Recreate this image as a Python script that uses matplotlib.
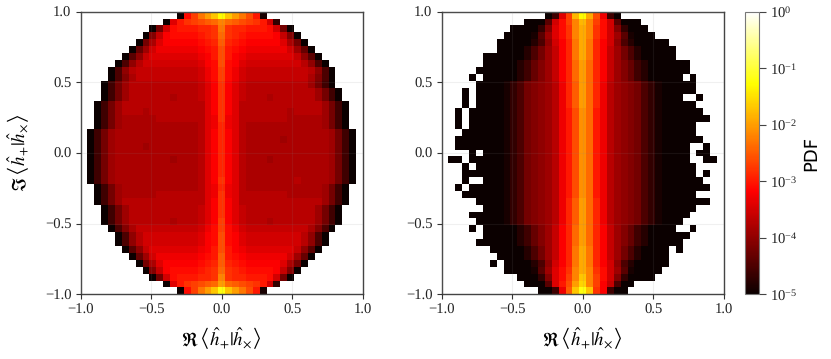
import numpy as np
import matplotlib
matplotlib.use('Agg')
import matplotlib.pyplot as plt
from matplotlib.colors import LogNorm

plt.rcParams['font.family'] = ['Liberation Serif', 'DejaVu Serif']
plt.rcParams['mathtext.fontset'] = 'stix'
plt.rcParams['text.hinting'] = 'no_hinting'

# each char is one histogram cell, top row first: log10(pdf) = -5 + 0.1 * index in LEVELS
LEVELS = '0123456789ABCDEFGHIJKLMNOPQRSTUVWXYZabcdefgh'

rows_left = [
    '..............0JNRUXbXUROK1..............',
    '............0GKMNOPQSQPONMKF3............',
    '..........08FJKKKLLMRMLLKKKJF80..........',
    '.........09EIJJJJKLMQMLKJJJJIE90.........',
    '........08CGIIIIIJKLPLKJIIIIIGC80........',
    '.......07BFHHHHHHIJKOKJIHHHHHHFB70.......',
    '......06AEGGGGGGGHIKOKIHGGGGGGGEA60......',
    '.....05ADFFFFFFFFGIJOJIGFFFFFFFFDA50.....',
    '....05ADEEEEEEEEEFHJNJHFEEEEEEEEEDA50....',
    '....059CEEEEEEEEEFHJNJHFEEEEEEEEEC950....',
    '...048BDDDDDDDDDDEGIMIGEDDDDDDDDDB840....',
    '...048BDDDDDDDDDDEGIMIGEDDDDDDDDDDB840...',
    '...048BDDDDDDCDDDEGIMIGEDDDCDDDDDDB840...',
    '..048BDDDDDDDDDDDDGIMIGDDDDDDDDDDDDB840..',
    '..048BDDDCDDDDDDDDGIMIGDDDDDDDCDDDDB840..',
    '..048BCCCCCDDDDDDDGHMHGDDDDDDDCCCCCB840..',
    '..048BCCCCCCCCCCCDGHLHGDCCCCCCCCCCCB840..',
    '.048BCCCCCCCCCCCCDGILIGDCCCCCCCCCCCCB840.',
    '.048BCCCCCCCCCCCCDGILIGDCCCCCBCCCCCCB840.',
    '.048BCCCCBCCCCCCCDGILIGDCCCCCCCCCCCCB840.',
    '.048BCCCCCCCCCCCCDGILIGDCCCCCCCCCCCCB840.',
    '.048BCCCCCCCCBCCCDGILIGDCCCBCCCCCCCCB840.',
    '.048BCCCCCCCCCCCCDGILIGDCCCCCCCCCCCCB840.',
    '.048BCCCCCCCCCCCCDGILIGDCCCCCCCCCCCCB840.',
    '.048BCCCCCCCCCCCCDGIMIGDCCCCCCCDCCCCB840.',
    '..048BCCCCCCCCCCCDGHLHGDCCCCCCCCCCCB840..',
    '..048BCCCCCDDDDDDDGHMHGDDDDDDDCCCCCB840..',
    '..048BDDDDDDDDDDDDGIMIGDDDDDDDDDDDDB840..',
    '...048BDDDDDDDDDDEGIMIGEDDDDDDDDDDB840...',
    '...048BDDDDDDDDDDEGIMIGEDDDDDDDDDDB840...',
    '...048BDDDDDDCDDDEGINIGEDDDCDDDDDDB840...',
    '....059CEEEEEEEEEFHJNJHFEEEEEEEEEC950....',
    '.....05ADFFFFFFFFGIJOJIGFFFFFFFFDA50.....',
    '.....05ADFFFFFFFFGIJOJIGFFFFFFFFDA50.....',
    '......06AEGGGGGGGHIKOKIHGGGGGGGEA60......',
    '.......07BFHHHHHHIJKPKJIHHHHHHFB70.......',
    '........08CGIIIIIJKLPLKJIIIIIGC80........',
    '.........09EIJJJJKLMQMLKJJJJIE90.........',
    '..........08FJKKKLLMSMLLKKKJF80..........',
    '............0GKMNOPQUQPONMKF3............',
    '..............0JNRUXcXUROK1..............',
]

rows_right = [
    '...............04GNWbVOH40...............',
    '............0006FJNSWSNJF6000............',
    '..........000039GJMSVSMJF93000...........',
    '.........000016BGJMSVSMJFB61000..........',
    '........0000025AFILRVRLIFA5200000........',
    '........0000258BEILRVRLIEB85200000.......',
    '......000000258BEILRVRLIEB85200000.......',
    '......000002479BEILQUQLIEB9742000000.....',
    '.....0000002479BEILQUQLIEB9742000000.....',
    '....0.000002479BEILQUQLIEB974200000.0....',
    '.....000013589ABDHLPUQLHDBA9853100000....',
    '...0.000013589ABDHLPUQLHDBA9853100000....',
    '...0.000013589ABDHLPUQLHDBA98531000..0...',
    '...0.000013589ABDHLPUQLHDBA9853100000....',
    '..0.0000013589ABDHKOTQKHDBA98531000000...',
    '..0.0000013589ABDHKOTQKHDBA985310000000..',
    '..0.0000013589ABDHKOTQKHDBA9853100000....',
    '...00000013589ABDHKOTQKHDBA9853100000....',
    '..000000013589ABDHKOTQKHDBA98531000000...',
    '..000000013589ABDHKOTQKHDBA985310000..0..',
    '....0.00013589ABDHKOTQKHDBA985310000.00..',
    '.00.0000013589ABDHKOTQKHDBA985310000..00.',
    '...0.000013589ABDHKOTQKHDBA9853100000....',
    '...00000013589ABDHKOTQKHDBA9853100000.0..',
    '...0..00013589ABDHKOTQKHDBA98531000000...',
    '..0.0000013589ABDHKOTQKHDBA985310000000..',
    '...00000013589ABDHKOTQKHDBA9853100000....',
    '.....000013589ABDHLPUQLHDBA985310000000..',
    '......00013589ABDHLPUQLHDBA9853100000....',
    '....0000013589ABDHLPUQLHDBA985310000.....',
    '.....000013589ABDHLPUQLHDBA98531000......',
    '....0.000002479BEILQUQLIEB97420000..0....',
    '......000002479BEILQUQLIEB9742000000.....',
    '.....0000002479BEILQUQLIEB974200000......',
    '.......00000258BEILRVRLIEB8520000.0......',
    '........0000258BEILRVRLIEB8520000........',
    '.......0.000025AFILRVRLIFA5200000........',
    '.........000016BGJMSVSMJFB610000.........',
    '...........00039GJNSXSNJF930000..........',
    '............0006GKOUYSNIE500.............',
    '..............004HPXcXMI400..............',
]

tick_vals = [-1.0, -0.5, 0.0, 0.5, 1.0]
cbar_ticks = [1e-5, 1e-4, 1e-3, 1e-2, 1e-1, 1e0]
xlabel = r'$\Re\,\left\langle\hat{h}_{+}|\hat{h}_{\times}\right\rangle$'
ylabel = r'$\Im\,\left\langle\hat{h}_{+}|\hat{h}_{\times}\right\rangle$'


def decode(rows):
    out = []
    for r in rows:
        out.append([np.nan if c == '.' else 10 ** (-5 + 0.1 * LEVELS.index(c)) for c in r])
    return np.array(out)


W, H = 831, 359
fig = plt.figure(figsize=(W / 100, H / 100), dpi=100)


def px_axes(x0, x1, y0, y1):
    return fig.add_axes([x0 / W, 1 - y1 / H, (x1 - x0) / W, (y1 - y0) / H])


ax1 = px_axes(80.5, 363, 11.7, 294.3)
ax2 = px_axes(441.5, 724, 11.7, 294.3)
cax = px_axes(744.7, 759.3, 11.7, 294.3)

cmap = plt.get_cmap('hot').copy()
cmap.set_bad('white')
norm = LogNorm(vmin=1e-5, vmax=1)
edges = np.linspace(-1, 1, 42)

for ax, rows in [(ax1, rows_left), (ax2, rows_right)]:
    Z = decode(rows)[::-1]
    mesh = ax.pcolormesh(edges, edges, Z, cmap=cmap, norm=norm, rasterized=True)
    ax.set_xlim(-1, 1)
    ax.set_ylim(-1, 1)
    ax.set_xticks(tick_vals)
    ax.set_yticks(tick_vals)
    ax.tick_params(labelsize=10.5, length=3.5, width=0.8, color='#333333', labelcolor='#222222', pad=3)
    ax.grid(True, color='#888888', alpha=0.12, lw=0.8)
    ax.set_axisbelow(False)
    for s in ax.spines.values():
        s.set_color('#444444')
        s.set_linewidth(1.0)
    ax.set_xlabel(xlabel, fontsize=13.5, labelpad=6)

ax1.set_ylabel(ylabel, fontsize=13.5, labelpad=10)

cb = fig.colorbar(mesh, cax=cax, ticks=cbar_ticks)
cb.ax.minorticks_off()
cb.ax.tick_params(labelsize=10.5, length=5, width=0.8, color='#444444', labelcolor='#222222', pad=3)
cb.outline.set_edgecolor('#777777')
cb.set_label('PDF', family='DejaVu Sans', fontsize=13, labelpad=3)

fig.savefig('out.png', dpi=100)
